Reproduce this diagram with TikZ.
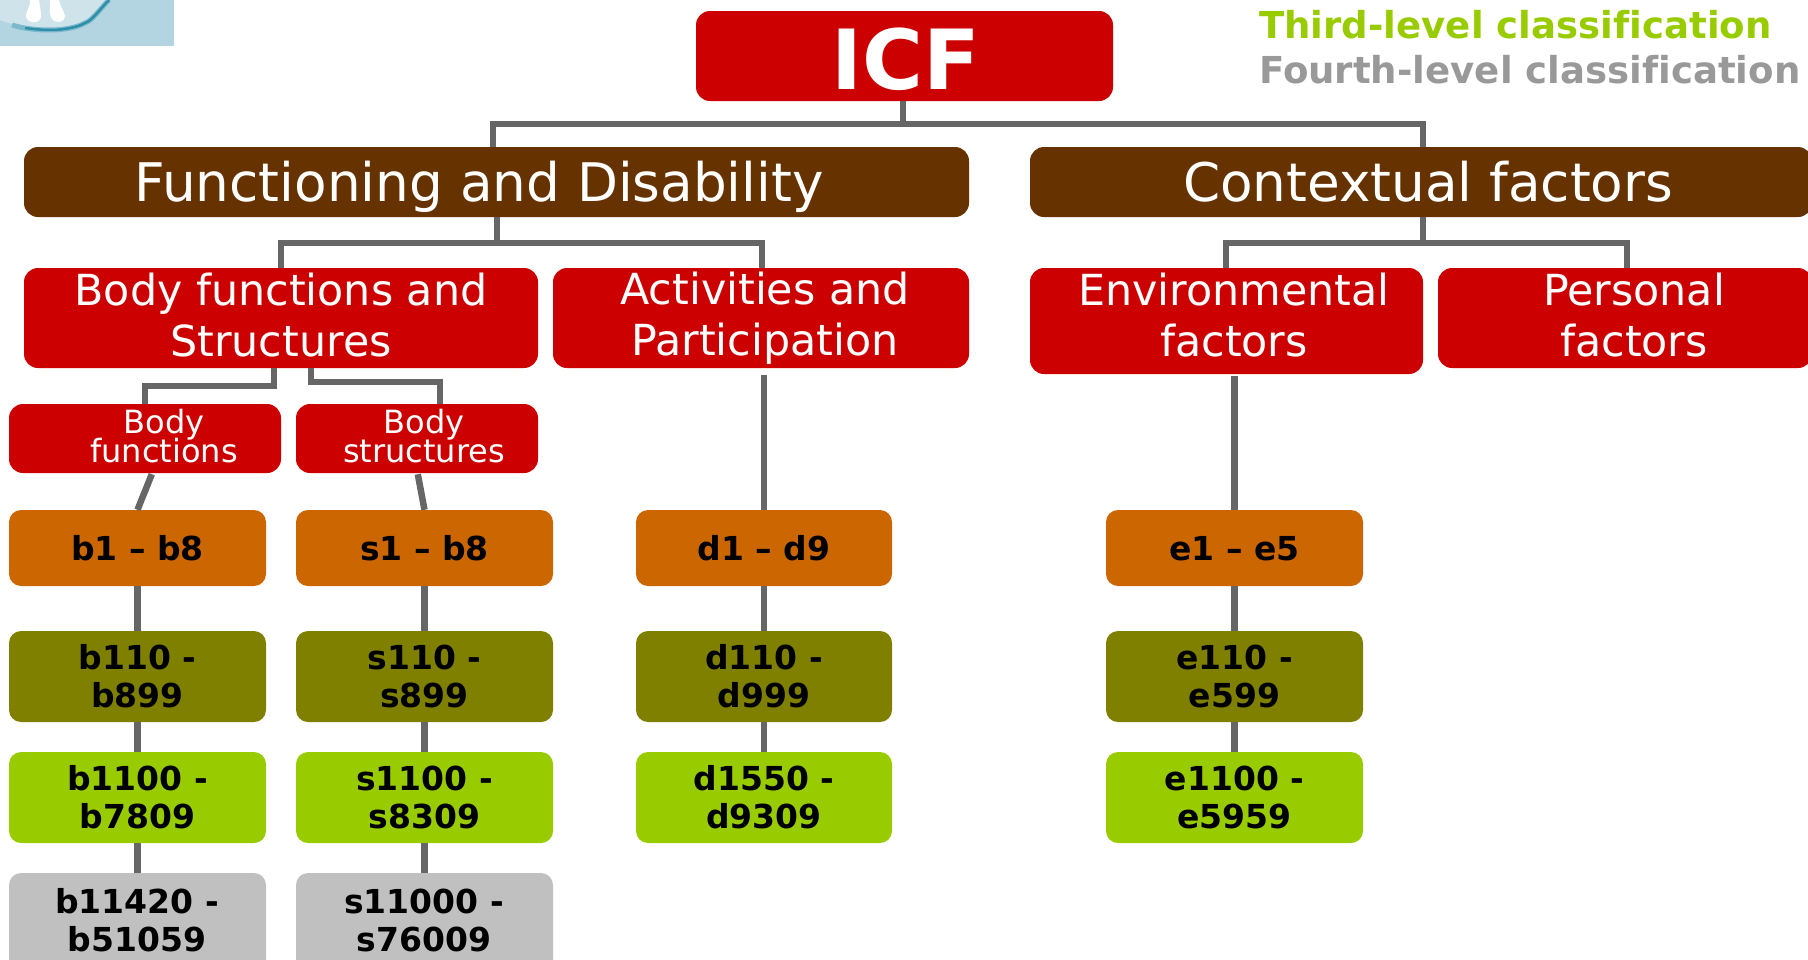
\documentclass[tikz,border=0pt]{standalone}
\usepackage{fontspec}
\setmainfont{DejaVu Sans}
\usetikzlibrary{calc}
\definecolor{cred}{HTML}{CC0000}
\definecolor{cbrown}{HTML}{663300}
\definecolor{corange}{HTML}{CC6600}
\definecolor{colive}{HTML}{808000}
\definecolor{clime}{HTML}{99CC00}
\definecolor{cgray}{HTML}{C0C0C0}
\definecolor{cline}{HTML}{666666}
\definecolor{clegend}{HTML}{999999}
\definecolor{logobg}{HTML}{B3D4E1}
\definecolor{logorim}{HTML}{2E8FA8}
\definecolor{logosoft}{HTML}{7DB9CC}
\definecolor{logoin}{HTML}{CFE3EA}
\newcommand{\fsz}[2]{\fontsize{#1}{#2}\selectfont}
\newcommand{\bx}[7]{%
  \pgfmathsetmacro{\bw}{#5-#3}\pgfmathsetmacro{\bh}{#6-#4}%
  \pgfmathsetmacro{\cx}{(#3+#5)/2}\pgfmathsetmacro{\cy}{(#4+#6)/2}%
  \node[box,#2,minimum width=\bw pt,minimum height=\bh pt] (#1) at (\cx,\cy) {#7};}
\tikzset{
  box/.style={rectangle,rounded corners=14pt,inner sep=0pt,align=center,draw=none},
  redbox/.style={fill=cred,text=white},
  brownbox/.style={fill=cbrown,text=white},
  lvbase/.style={text=black,font=\bfseries\fsz{33}{38},rounded corners=12pt,execute at begin node=\vphantom{b}},
  lvone/.style={lvbase,fill=corange},
  lvtwo/.style={lvbase,fill=colive},
  lvthree/.style={lvbase,fill=clime},
  lvfour/.style={lvbase,fill=cgray},
  wtext/.style={text=white,inner sep=0pt,align=center},
  big/.style={font=\fsz{53.2}{60}},
  mid/.style={font=\fsz{42.8}{51}},
  small/.style={font=\fsz{32}{33}},
  btext/.style={inner sep=0pt,align=center,font=\bfseries\fsz{33}{38},execute at begin node=\vphantom{b}},
  conn/.style={draw=cline,line width=6.5pt,line join=miter},
  legend/.style={inner sep=0pt,anchor=west,font=\bfseries\fsz{37.1}{44}}
}
\begin{document}
\begin{tikzpicture}[x=1pt,y=-1pt]
\useasboundingbox (0,0) rectangle (1808,959);
\clip (0,0) rectangle (1808,959);
% logo fragment
\fill[logobg] (0,0) rectangle (174,46);
\fill[logoin] (0,20) .. controls (15,26) and (35,29) .. (50,29) .. controls (65,29) and (78,26) .. (85,22) .. controls (92,20) and (100,8) .. (108,0) -- (0,0) -- cycle;
\draw[logosoft,line width=5pt] (12,25) .. controls (25,29) and (38,30) .. (50,30) .. controls (65,30) and (78,27) .. (85,23) .. controls (92,21) and (100,9) .. (109,0);
\draw[logorim,line width=2.5pt] (25,28) .. controls (33,29) and (42,30) .. (50,30) .. controls (65,30) and (78,27) .. (85,23) .. controls (92,21) and (100,9) .. (109,0);
\fill[white] (30,0) .. controls (31,6) and (25,12) .. (26,17) .. controls (28,24) and (40,24) .. (41,17) .. controls (41,11) and (40,6) .. (39,0) -- cycle;
\fill[white] (50,0) .. controls (50,7) and (49,12) .. (51,17) .. controls (54,24) and (64,24) .. (65,16) .. controls (64,11) and (60,6) .. (59,0) -- cycle;
% boxes
\bx{icf}{redbox}{696}{11}{1113}{101}{}
\bx{fd}{brownbox}{24}{147}{969}{217}{}
\bx{cf}{brownbox}{1030}{147}{1812}{217}{}
\bx{bfs}{redbox}{24}{268}{538}{368}{}
\bx{ap}{redbox}{553}{268}{969}{368}{}
\bx{ef}{redbox}{1030}{268}{1423}{374}{}
\bx{pf}{redbox}{1438}{268}{1812}{368}{}
\bx{bf}{redbox}{9}{404}{281}{473}{}
\bx{bs}{redbox}{296}{404}{538}{473}{}
\node[wtext,font=\bfseries\fsz{83}{90}] (icft) at (906,59) {ICF};
\node[wtext,big] (fdt) at (479,187) {Functioning and Disability};
\node[wtext,big] (cft) at (1428,182) {Contextual factors};
\node[wtext,mid] (bfst) at (281,315) {Body functions and\\Structures};
\node[wtext,mid] (apt) at (765,318) {Activities and\\Participation};
\node[wtext,mid] (eft) at (1234,315) {Environmental\\factors};
\node[wtext,mid] (pft) at (1634,315) {Personal\\factors};
\node[wtext,small] (bft) at (164,436) {Body\\[-4pt]functions};
\node[wtext,small] (bst) at (424,436) {Body\\[-4pt]structures};
% column b
\bx{b1}{lvone}{9}{510}{266}{586}{b1 – b8}
\bx{b2}{lvtwo}{9}{631}{266}{722}{b110 -\\b899}
\bx{b3}{lvthree}{9}{752}{266}{843}{b1100 -\\b7809}
\bx{b4}{lvfour}{9}{873}{266}{985}{}
\node[btext] (b4t) at (137,920) {b11420 -\\b51059};
% column s
\bx{s1}{lvone}{296}{510}{553}{586}{s1 – b8}
\bx{s2}{lvtwo}{296}{631}{553}{722}{s110 -\\s899}
\bx{s3}{lvthree}{296}{752}{553}{843}{s1100 -\\s8309}
\bx{s4}{lvfour}{296}{873}{553}{985}{}
\node[btext] (s4t) at (424,920) {s11000 -\\s76009};
% column d
\bx{d1}{lvone}{636}{510}{892}{586}{d1 – d9}
\bx{d2}{lvtwo}{636}{631}{892}{722}{d110 -\\d999}
\bx{d3}{lvthree}{636}{752}{892}{843}{d1550 -\\d9309}
% column e
\bx{e1}{lvone}{1106}{510}{1363}{586}{e1 – e5}
\bx{e2}{lvtwo}{1106}{631}{1363}{722}{e110 -\\e599}
\bx{e3}{lvthree}{1106}{752}{1363}{843}{e1100 -\\e5959}
% legend
\node[legend,text=clime] (l3) at (1259,25) {Third-level classif\kern0pt ication};
\node[legend,text=clegend] (l4) at (1259,70) {Fourth-level classif\kern0pt ication};
% connectors
\coordinate (icfb) at ($(icf.south west)+(207,0)$);
\coordinate (fdt1) at ($(fd.north west)+(469,0)$);
\coordinate (cft1) at ($(cf.north west)+(393,0)$);
\draw[conn] (icfb) -- (icfb |- 0,124) -| (fdt1);
\draw[conn] (icfb |- 0,124) -| (cft1);
\coordinate (fdb) at ($(fd.south west)+(473,0)$);
\coordinate (bfst1) at ($(bfs.north west)+(257,0)$);
\coordinate (apt1) at ($(ap.north west)+(209,0)$);
\draw[conn] (fdb) -- (fdb |- 0,243) -| (bfst1);
\draw[conn] (fdb |- 0,243) -| (apt1);
\coordinate (cfb) at ($(cf.south west)+(393,0)$);
\coordinate (eft1) at ($(ef.north west)+(196,0)$);
\coordinate (pft1) at ($(pf.north west)+(189,0)$);
\draw[conn] (cfb) -- (cfb |- 0,243) -| (eft1);
\draw[conn] (cfb |- 0,243) -| (pft1);
\coordinate (bfsb1) at ($(bfs.south west)+(250,0)$);
\coordinate (bfsb2) at ($(bfs.south west)+(287,0)$);
\coordinate (bft1) at ($(bf.north west)+(136,0)$);
\coordinate (bst1) at ($(bs.north west)+(144,0)$);
\draw[conn] (bfsb1) -- (bfsb1 |- 0,386) -| (bft1);
\draw[conn] (bfsb2) -- (bfsb2 |- 0,382) -| (bst1);
\coordinate (bfb) at ($(bf.south west)+(143,1)$);
\coordinate (bsb) at ($(bs.south west)+(122,1)$);
\draw[conn] (bfb) -- (b1.north);
\draw[conn] (bsb) -- (s1.north);
\coordinate (apb) at ($(d1.north)+(0,-135)$);
\coordinate (efb) at ($(e1.north)+(0,-134)$);
\draw[conn] (apb) -- (d1.north);
\draw[conn] (efb) -- (e1.north);
\foreach \c in {b,s,d,e}{
  \draw[conn] (\c1.south) -- (\c2.north);
  \draw[conn] (\c2.south) -- (\c3.north);
}
\draw[conn] (b3.south) -- (b4.north);
\draw[conn] (s3.south) -- (s4.north);
\end{tikzpicture}
\end{document}
